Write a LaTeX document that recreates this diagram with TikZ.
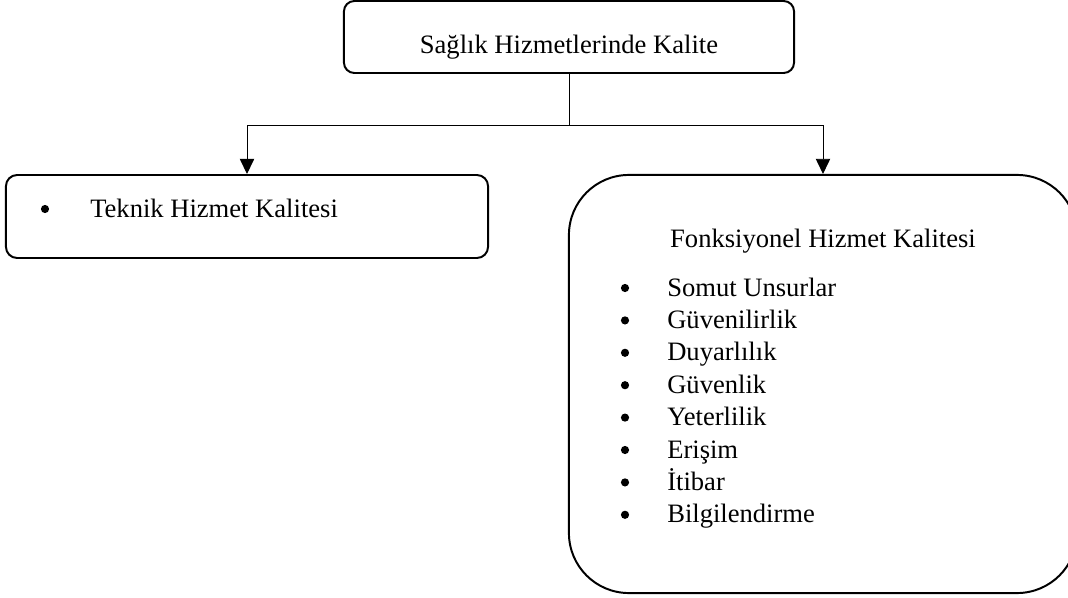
\documentclass[tikz,border=0pt]{standalone}
\usepackage{fontspec}
\setmainfont{Liberation Serif}
\usetikzlibrary{arrows.meta}

\tikzset{
  box/.style={draw, line width=1.4pt, inner sep=0pt},
  lbl/.style={inner sep=0pt, font=\fontsize{18.9pt}{23pt}\selectfont},
  dot/.style={circle, fill, inner sep=0pt, minimum size=0.205cm},
  conn/.style={line width=0.7pt},
  arr/.style={conn, -{Triangle[width=0.36cm,length=0.38cm]}}
}

\begin{document}
\begin{tikzpicture}[x=0.025cm,y=-0.025cm]
            \clip (0,0) rectangle (1068,598);
            % boxes
            \node [box, rounded corners=0.26cm, minimum width=11.25cm, minimum height=1.8cm] (top) at (569,37) {};
            \node [box, rounded corners=0.28cm, minimum width=12.05cm, minimum height=2.075cm] (teknik) at (247,216.5) {};
            \node [box, rounded corners=1.5cm, minimum width=12.7cm, minimum height=10.45cm] (fonk) at (823,384) {};
            % texts
            \node [lbl, anchor=base] (toplbl) at (569,53) {Sağlık Hizmetlerinde Kalite};
            \node [dot] (teknikdot) at (45,209) {};
            \node [lbl, anchor=base west] (tekniklbl) at (90,217) {Teknik Hizmet Kalitesi};
            \node [lbl, anchor=base] (fonklbl) at (823,247) {Fonksiyonel Hizmet Kalitesi};
            \foreach \txt [count=\i] in {Somut Unsurlar, Güvenilirlik, Duyarlılık, Güvenlik,
                Yeterlilik, Erişim, İtibar, Bilgilendirme} {
              \node [dot] (dot\i) at (625,255.6+32.4*\i) {};
              \node [lbl, anchor=base west] (item\i) at (667,263.6+32.4*\i) {\txt};
            }
            % connectors
            \coordinate (split) at (569,125);
            \draw [conn] (top.south) -- (split);
            \draw [arr] (split) -| (teknik.north);
            \draw [arr] (split) -| (fonk.north);
        \end{tikzpicture}
\end{document}
